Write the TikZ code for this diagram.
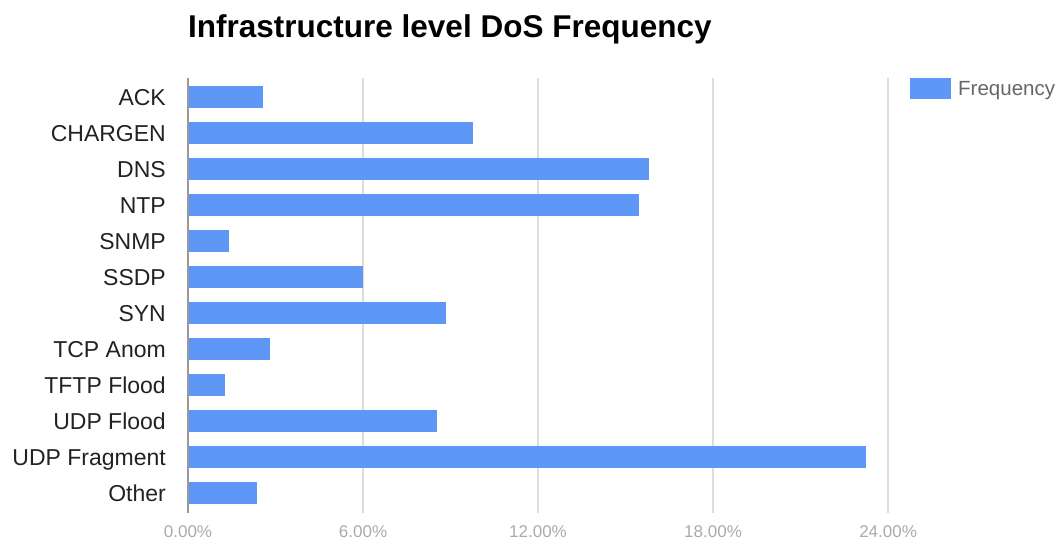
\documentclass[tikz,border=0pt]{standalone}
\usepackage{fontspec}
\setmainfont{Liberation Sans}
\definecolor{barblue}{HTML}{5F97F6}
\definecolor{gridgray}{HTML}{DDDDDD}
\definecolor{axisgray}{HTML}{999999}
\definecolor{ticktext}{HTML}{AAAAAA}
\definecolor{labeltext}{HTML}{222222}
\definecolor{legendtext}{HTML}{666666}
\tikzset{
  gridline/.style={draw=gridgray, line width=1.2pt},
  axisline/.style={draw=axisgray, line width=1.2pt},
  bar/.style={fill=barblue},
  catlabel/.style={anchor=base east, inner sep=0pt, text=labeltext, font=\fontsize{23}{26}\selectfont},
  ticklabel/.style={anchor=base, inner sep=0pt, text=ticktext, font=\fontsize{17}{20}\selectfont},
  charttitle/.style={anchor=base west, inner sep=0pt, text=black, font=\bfseries\fontsize{31.5}{36}\selectfont},
  legendlabel/.style={anchor=base west, inner sep=0pt, text=legendtext, font=\fontsize{20.5}{24}\selectfont}
}
\begin{document}
\begin{tikzpicture}[x=1pt,y=-1pt]
\useasboundingbox (0,0) rectangle (1061,545);

% title
\node[charttitle] (title) at (188,38) {Infrastructure level DoS Frequency};

% vertical grid lines and value labels (29.17 px per percent)
\foreach \v/\lab [count=\k] in {6/6.00\%,12/12.00\%,18/18.00\%,24/24.00\%} {
  \draw[gridline] ({188+29.17*\v},78) -- ({188+29.17*\v},513);
  \node[ticklabel] (tick\k) at ({188+29.17*\v},537) {\lab};
}
\node[ticklabel] (tick0) at (188,537) {0.00\%};

% bars and category labels
\foreach \name/\val [count=\i] in {
  ACK/2.57, CHARGEN/9.77, DNS/15.80, NTP/15.46, SNMP/1.41, SSDP/6.00,
  SYN/8.84, TCP Anom/2.81, TFTP Flood/1.27, UDP Flood/8.54,
  UDP Fragment/23.24, Other/2.37} {
  \pgfmathsetmacro{\yc}{97+36*(\i-1)}
  \path[bar] (188,{\yc-11}) rectangle ({188+29.17*\val},{\yc+11});
  \node[catlabel] (cat\i) at (166,{\yc+8.2}) {\name};
}

% category axis
\draw[axisline] (188,78) -- (188,513);

% legend
\path[bar] (910,78) rectangle (951,99);
\node[legendlabel] (legend) at (958,96) {Frequency};
\end{tikzpicture}
\end{document}
